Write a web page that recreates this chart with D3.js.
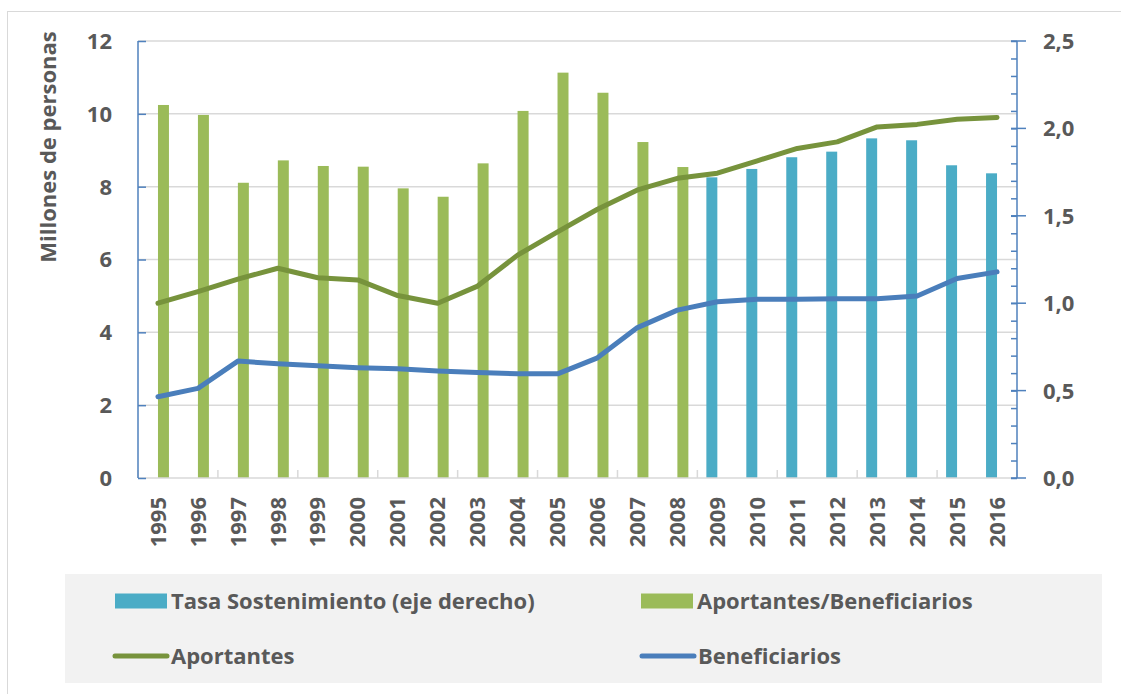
<!DOCTYPE html>
<html>
<head>
<meta charset="utf-8">
<script src="https://cdn.jsdelivr.net/npm/d3@7"></script>
<style>
  body { margin: 0; background: #fff; }
  text { font-family: "Open Sans", sans-serif; font-weight: bold; fill: #595959; }
</style>
</head>
<body>
<div class="graph"></div>
<script>
var years = ["1995", "1996", "1997", "1998", "1999", "2000", "2001", "2002", "2003", "2004", "2005",
  "2006", "2007", "2008", "2009", "2010", "2011", "2012", "2013", "2014", "2015", "2016"];

// millones de personas (eje izquierdo)
var aportantes = [4.80, 5.12, 5.46, 5.76, 5.50, 5.44, 5.01, 4.80, 5.27, 6.12, 6.76,
  7.38, 7.91, 8.23, 8.37, 8.71, 9.05, 9.23, 9.64, 9.71, 9.85, 9.90];
var beneficiarios = [2.23, 2.46, 3.21, 3.14, 3.08, 3.03, 3.00, 2.94, 2.90, 2.86, 2.86,
  3.30, 4.13, 4.61, 4.84, 4.91, 4.91, 4.92, 4.92, 5.00, 5.48, 5.66];

// eje derecho
var aportBenef = [2.134, 2.077, 1.689, 1.817, 1.785, 1.781, 1.657, 1.609, 1.80, 2.10, 2.319,
  2.204, 1.922, 1.779, null, null, null, null, null, null, null, null];
var tasaSost = [null, null, null, null, null, null, null, null, null, null, null,
  null, null, null, 1.720, 1.768, 1.835, 1.867, 1.943, 1.932, 1.789, 1.743];

var leftTicks = [0, 2, 4, 6, 8, 10, 12];
var rightTicks = [0, 0.5, 1, 1.5, 2, 2.5];

var width = 1121;
var height = 694;

var svg = d3.select(".graph").append("svg")
  .attr("width", width)
  .attr("height", height);

// marco exterior
svg.append("rect")
  .attr("x", 7.5).attr("y", 11.5)
  .attr("width", 1200).attr("height", 700)
  .attr("fill", "none")
  .attr("stroke", "#d9d9d9");

var plotLeft = 138, plotRight = 1017, plotTop = 41, plotBottom = 478;

var x = d3.scaleBand()
  .domain(years)
  .range([plotLeft, plotRight]);

var x1 = d3.scaleBand()
  .domain(["tasa", "aport"])
  .range([0, x.bandwidth()])
  .paddingOuter(0.82);

var y = d3.scaleLinear().domain([0, 12]).range([plotBottom, plotTop]);
var y2 = d3.scaleLinear().domain([0, 2.5]).range([plotBottom, plotTop]);

// lineas de cuadricula
svg.append("g")
  .selectAll("line")
  .data(leftTicks.slice(1))
  .join("line")
  .attr("x1", plotLeft).attr("x2", plotRight)
  .attr("y1", d => y(d)).attr("y2", d => y(d))
  .attr("stroke", "#d9d9d9")
  .attr("stroke-width", 1.5);

// barras
var bars = svg.append("g");
bars.selectAll(".aport")
  .data(years.map((yr, i) => ({yr: yr, v: aportBenef[i]})).filter(d => d.v != null))
  .join("rect")
  .attr("class", "aport")
  .attr("x", d => x(d.yr) + x1("aport"))
  .attr("width", x1.bandwidth())
  .attr("y", d => y2(d.v))
  .attr("height", d => y2(0) - y2(d.v))
  .attr("fill", "#9bbb59");

bars.selectAll(".tasa")
  .data(years.map((yr, i) => ({yr: yr, v: tasaSost[i]})).filter(d => d.v != null))
  .join("rect")
  .attr("class", "tasa")
  .attr("x", d => x(d.yr) + x1("tasa"))
  .attr("width", x1.bandwidth())
  .attr("y", d => y2(d.v))
  .attr("height", d => y2(0) - y2(d.v))
  .attr("fill", "#4bacc6");

// eje x
svg.append("line")
  .attr("x1", plotLeft).attr("x2", plotRight)
  .attr("y1", plotBottom).attr("y2", plotBottom)
  .attr("stroke", "#d9d9d9")
  .attr("stroke-width", 1.5);

var boundaries = d3.range(0, years.length + 1, 2);
svg.append("g")
  .selectAll("line")
  .data(boundaries)
  .join("line")
  .attr("x1", d => plotLeft + d * x.step()).attr("x2", d => plotLeft + d * x.step())
  .attr("y1", plotBottom).attr("y2", plotBottom - 8)
  .attr("stroke", "#d9d9d9")
  .attr("stroke-width", 1.5);

svg.append("g")
  .selectAll("text")
  .data(years)
  .join("text")
  .attr("transform", d => "translate(" + (x(d) + x.bandwidth() / 2) + "," + 497 + ") rotate(-90)")
  .attr("text-anchor", "end")
  .attr("dy", "0.35em")
  .style("font-size", "22px")
  .text(d => d);

// eje izquierdo
var yAxisGroup = svg.append("g")
  .attr("transform", "translate(" + plotLeft + ",0)");
var yAxis = d3.axisRight(y).tickValues(leftTicks).tickSize(8).tickFormat("");
yAxis(yAxisGroup);
yAxisGroup.selectAll("path, line").attr("stroke", "#4f81bd").attr("stroke-width", 1.5);
yAxisGroup.select(".domain").attr("d", "M0," + plotTop + "V" + plotBottom);

svg.append("g")
  .selectAll("text")
  .data(leftTicks)
  .join("text")
  .attr("x", 112)
  .attr("y", d => y(d))
  .attr("dy", "0.36em")
  .attr("text-anchor", "end")
  .style("font-size", "22px")
  .text(d => d);

svg.append("text")
  .attr("transform", "translate(56,147) rotate(-90)")
  .attr("text-anchor", "middle")
  .style("font-size", "22px")
  .text("Millones de personas");

// eje derecho
var y2Group = svg.append("g")
  .attr("transform", "translate(" + plotRight + ",0)");
var minor = d3.axisLeft(y2).tickValues(d3.range(0, 26).map(d => d / 10)).tickSize(6).tickFormat("");
minor(y2Group);
y2Group.selectAll("path, line").attr("stroke", "#4f81bd").attr("stroke-width", 1.5);
y2Group.select(".domain").attr("d", "M0," + plotTop + "V" + plotBottom);

svg.append("g")
  .selectAll("line")
  .data(rightTicks)
  .join("line")
  .attr("x1", plotRight - 6).attr("x2", plotRight + 9)
  .attr("y1", d => y2(d)).attr("y2", d => y2(d))
  .attr("stroke", "#4f81bd")
  .attr("stroke-width", 1.5);

svg.append("g")
  .selectAll("text")
  .data(rightTicks)
  .join("text")
  .attr("x", 1043)
  .attr("y", d => y2(d))
  .attr("dy", "0.36em")
  .style("font-size", "22px")
  .text(d => d3.format(".1f")(d).replace(".", ","));

// lineas
var lineL = d3.line()
  .x((d, i) => x(years[i]) + x.bandwidth() / 2)
  .y(d => y(d));

svg.append("path")
  .datum(aportantes)
  .attr("fill", "none")
  .attr("stroke", "#77933c")
  .attr("stroke-width", 5)
  .attr("stroke-linejoin", "round")
  .attr("stroke-linecap", "round")
  .attr("d", lineL);

svg.append("path")
  .datum(beneficiarios)
  .attr("fill", "none")
  .attr("stroke", "#4a7ebb")
  .attr("stroke-width", 5)
  .attr("stroke-linejoin", "round")
  .attr("stroke-linecap", "round")
  .attr("d", lineL);

// leyenda
var legend = svg.append("g");
legend.append("rect")
  .attr("x", 65).attr("y", 574)
  .attr("width", 1037).attr("height", 109)
  .attr("fill", "#f2f2f2");

var legendItems = [
  {label: "Tasa Sostenimiento (eje derecho)", type: "bar", color: "#4bacc6", x: 115, y: 601},
  {label: "Aportantes/Beneficiarios", type: "bar", color: "#9bbb59", x: 641, y: 601},
  {label: "Aportantes", type: "line", color: "#77933c", x: 115, y: 656},
  {label: "Beneficiarios", type: "line", color: "#4a7ebb", x: 642, y: 656}
];

legendItems.forEach(function (d) {
  if (d.type == "bar") {
    legend.append("rect")
      .attr("x", d.x).attr("y", d.y - 7.5)
      .attr("width", 52).attr("height", 15)
      .attr("fill", d.color);
  } else {
    legend.append("line")
      .attr("x1", d.x).attr("x2", d.x + 52)
      .attr("y1", d.y).attr("y2", d.y)
      .attr("stroke", d.color)
      .attr("stroke-width", 5)
      .attr("stroke-linecap", "round");
  }
  legend.append("text")
    .attr("x", d.x + 56)
    .attr("y", d.y)
    .attr("dy", "0.36em")
    .style("font-size", "22px")
    .text(d.label);
});
</script>
</body>
</html>
